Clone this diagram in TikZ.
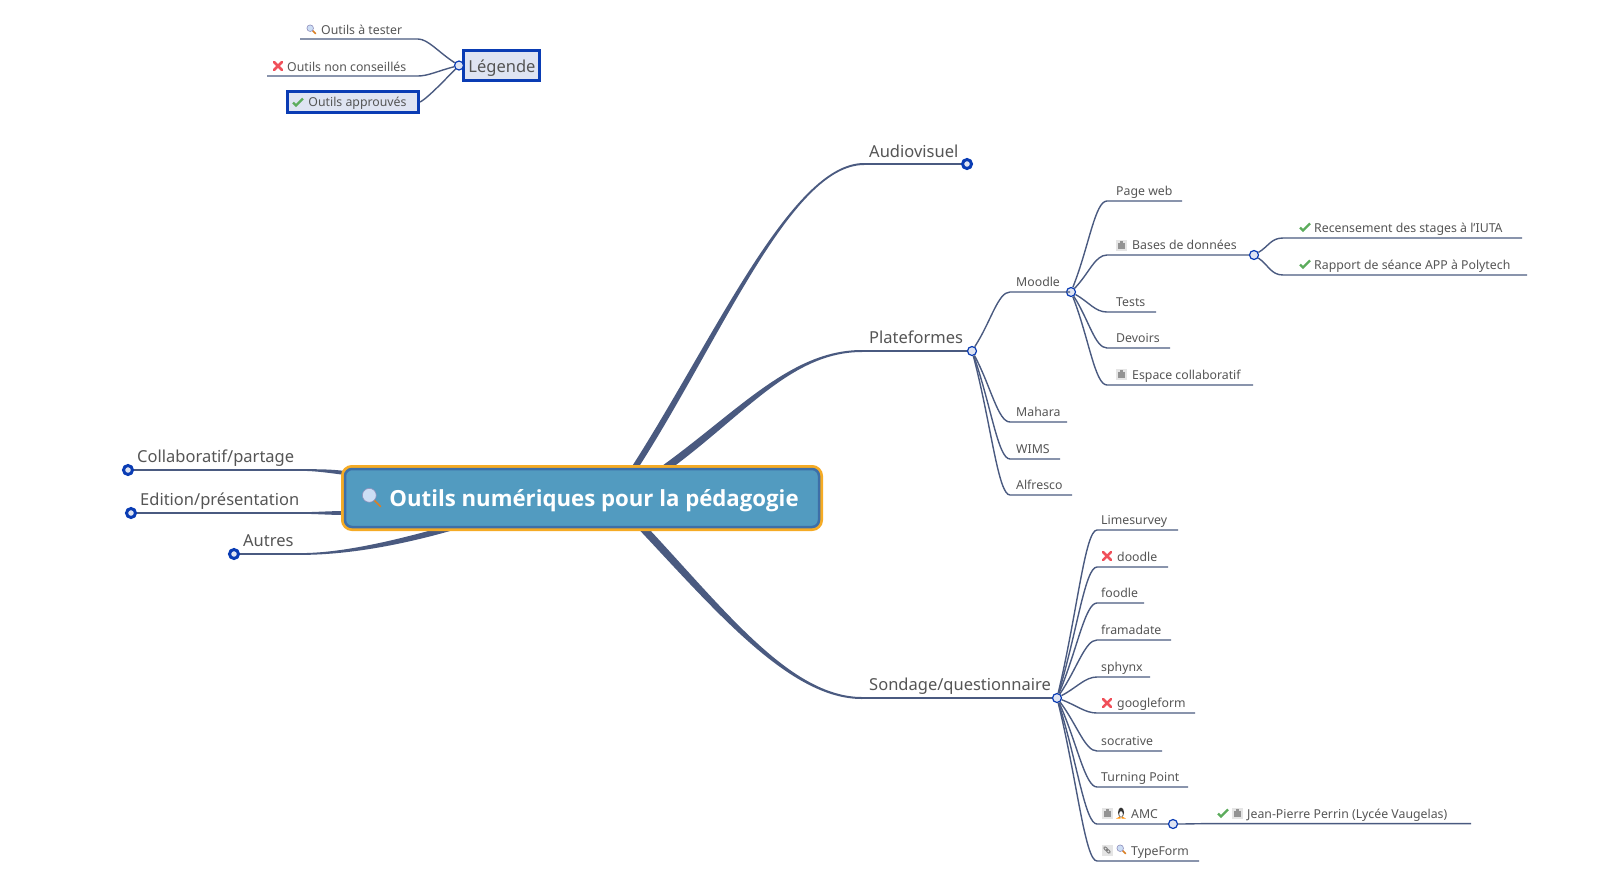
\documentclass[tikz,border=0pt]{standalone}
\usepackage{fontspec}
\setmainfont{Noto Sans}
\newfontfamily\titlefont{Open Sans}
\usetikzlibrary{calc,backgrounds}
\definecolor{lnkc}{RGB}{74,90,128}
\definecolor{ringc}{RGB}{10,60,180}
\definecolor{hubc}{RGB}{223,228,242}
\definecolor{txtc}{RGB}{85,85,85}
\definecolor{mainc}{RGB}{82,155,192}
\definecolor{mainb}{RGB}{61,111,168}
\definecolor{maino}{RGB}{245,171,37}
\definecolor{okc}{RGB}{92,172,92}
\definecolor{noc}{RGB}{240,80,90}
\definecolor{lensc}{RGB}{205,222,245}
\tikzset{
  lnk/.style={lnkc, line width=1.4pt},
  hub/.style={circle, draw=ringc, fill=hubc, line width=1.2pt, inner sep=0pt, minimum size=9pt},
  hubb/.style={circle, draw=ringc, fill=hubc, line width=3pt, inner sep=0pt, minimum size=9pt},
  leaf/.style={anchor=base west, text=txtc, font=\fontsize{12.3}{14}\selectfont, inner sep=0pt},
  brn/.style={anchor=base west, text=txtc, font=\fontsize{16.5}{20}\selectfont, inner sep=0pt},
  sel/.style={draw=ringc, fill=hubc, line width=2.6pt, inner sep=0pt, text=txtc},
  mainbox/.style={draw=mainb, fill=mainc, line width=2.5pt, rounded corners=7pt,
      preaction={draw=maino, line width=8pt},
      minimum width=474pt, minimum height=58pt, inner sep=0pt, text=white,
      font=\titlefont\fontsize{22.2}{24}\selectfont\bfseries},
  loupe/.pic={
    \draw[line width=1.7pt, line cap=round, brown!60!orange] (1.5,1.5) -- (4.5,4.5);
    \draw[fill=lensc, draw=blue!25!gray!70, line width=.6pt] (-.8,-.8) circle (3.3);
  },
  croix/.pic={
    \draw[line width=2.5pt, line cap=round, noc] (-4,-4) -- (4,4) (-4,4) -- (4,-4);
  },
  coche/.pic={
    \draw[line width=2.2pt, okc] (-5,.5) -- (-2,3.5) -- (5,-3.5);
  },
  bloc/.pic={
    \fill[gray!20] (-5.5,-5.5) rectangle (5.5,5.5);
    \fill[gray!85] (-3.5,-2.5) rectangle (3.5,3.5);
    \fill[gray!85] (-1.5,-4) rectangle (1.5,-2);
  },
  lien/.pic={
    \fill[gray!20] (-5.5,-5.5) rectangle (5.5,5.5);
    \draw[gray, line width=1pt, rotate=-45] (-1.7,0) ellipse (2.3 and 1.3) (1.7,0) ellipse (2.3 and 1.3);
  },
  manchot/.pic={
    \fill[black!80] (0,-.5) ellipse (3 and 5);
    \fill[white] (0,1) ellipse (1.8 and 2.8);
    \fill[orange!90!yellow] (-5,5.5) -- (-1,3.5) -- (-.5,5.5) -- cycle (5,5.5) -- (1,3.5) -- (.5,5.5) -- cycle;
  },
}
% thick branch, thin at its far end
\newcommand{\taperlink}[6]{
  \fill[lnkc] ($(#1)-(#5)$) .. controls ($(#2)-(#5)$) and ($(#3)-(#6)$) .. ($(#4)-(#6)$)
    -- ($(#4)+(#6)$) .. controls ($(#3)+(#6)$) and ($(#2)+(#5)$) .. ($(#1)+(#5)$) -- cycle;
}
\begin{document}
\begin{tikzpicture}[x=1pt, y=-1pt]
  \useasboundingbox (0,0) rectangle (1609,887);

  % centre
  \node[mainbox] (main) at (582,498) {\raisebox{-8pt}[0pt][0pt]{\hspace{24pt}Outils numériques pour la pédagogie}};
  \pic[scale=2.1] at (371,497) {loupe};

  % hubs
  \node[hubb] (audio) at (967,164) {};
  \node[hub] (plat) at (972,351) {};
  \node[hub] (mood) at (1071,292) {};
  \node[hub] (base) at (1254,255) {};
  \node[hub] (sond) at (1057,698) {};
  \node[hub] (amc) at (1173,824) {};
  \node[hubb] (collab) at (128,470) {};
  \node[hubb] (edit) at (131,513) {};
  \node[hubb] (autres) at (234,554) {};

  % main branches
  \node[brn] (audiot) at (869,157) {Audiovisuel};
  \node[brn] (platt) at (869,343) {Plateformes};
  \node[brn] (sondt) at (869,690) {Sondage/questionnaire};
  \node[brn] (collabt) at (137,462) {Collaboratif/partage};
  \node[brn] (editt) at (140,505) {Edition/présentation};
  \node[brn] (autrest) at (243,546) {Autres};
  \begin{scope}[on background layer]
    \coordinate (a0) at (630,475);
    \coordinate (a1) at (864,164);
    \taperlink{a0}{715,345}{790,164}{a1}{3.6,0}{0,1}
    \draw[lnk] (a1) -- (audio);
    \coordinate (p0) at (660,472);
    \coordinate (p1) at (862,351);
    \taperlink{p0}{740,415}{790,351}{p1}{2.8,2.6}{0,1}
    \draw[lnk] (p1) -- (plat);
    \coordinate (s0) at (640,525);
    \coordinate (s1) at (862,698);
    \taperlink{s0}{720,610}{790,698}{s1}{-2.8,2.6}{0,1}
    \draw[lnk] (s1) -- (sond);
    \coordinate (c0) at (345,473);
    \coordinate (c1) at (300,470);
    \taperlink{c0}{330,471}{315,470}{c1}{0,2}{0,.8}
    \draw[lnk] (c1) -- (collab);
    \coordinate (e0) at (345,513);
    \coordinate (e1) at (300,513);
    \taperlink{e0}{330,513}{315,513}{e1}{0,2}{0,.8}
    \draw[lnk] (e1) -- (edit);
    \coordinate (u0) at (450,528);
    \coordinate (u1) at (300,554);
    \taperlink{u0}{390,545}{340,554}{u1}{0,3}{0,.9}
    \draw[lnk] (u1) -- (autres);
  \end{scope}

  % leaves
  \foreach \nm/\hb/\yy/\xs/\xe/\tx/\txt in {
      moodle/plat/292/1010/1070/1016/Moodle,
      mahara/plat/422/1010/1067/1016/Mahara,
      wims/plat/459/1010/1060/1016/WIMS,
      alfresco/plat/495/1010/1072/1016/Alfresco,
      pageweb/mood/201/1107/1182/1116/Page web,
      tests/mood/312/1107/1156/1116/Tests,
      devoirs/mood/348/1107/1170/1116/Devoirs,
      espace/mood/385/1107/1253/1132/Espace collaboratif,
      recens/base/238/1283/1522/1314/Recensement des stages à l'IUTA,
      rapport/base/275/1283/1527/1314/Rapport de séance APP à Polytech,
      limes/sond/530/1097/1178/1101/Limesurvey,
      doodle/sond/567/1097/1168/1117/doodle,
      foodle/sond/603/1097/1144/1101/foodle,
      frama/sond/640/1097/1171/1101/framadate,
      sphynx/sond/677/1097/1150/1101/sphynx,
      google/sond/713/1097/1195/1117/googleform,
      socra/sond/751/1097/1162/1101/socrative,
      turning/sond/787/1097/1188/1101/Turning Point,
      typef/sond/861/1097/1199/1131/TypeForm}{
    \coordinate (\nm s) at (\xs,\yy);
    \coordinate (\nm e) at (\xe,\yy);
    \node[leaf] (\nm) at (\tx,\yy-5.2) {\txt};
    \draw[lnk] (\hb) .. controls ($(\hb)!.5!(\nm s)$) and ($(\nm s)+(-12,0)$) .. (\nm s) -- (\nm e);
  }
  % branch with a hub of its own
  \coordinate (bases) at (1107,255);
  \node[leaf] (basest) at (1132,249.8) {Bases de données};
  \draw[lnk] (mood) .. controls ($(mood)!.5!(bases)$) and ($(bases)+(-12,0)$) .. (bases) -- (base);
  \coordinate (amcs) at (1097,824);
  \node[leaf] (amct) at (1131,818.8) {AMC};
  \draw[lnk] (sond) .. controls ($(sond)!.5!(amcs)$) and ($(amcs)+(-12,0)$) .. (amcs) -- (amc);
  \coordinate (jps) at (1213,823.6);
  \coordinate (jpe) at (1471,823.6);
  \node[leaf] (jpt) at (1247,818.4) {Jean-Pierre Perrin (Lycée Vaugelas)};
  \draw[lnk] (amc) .. controls +(15,0) and ($(jps)+(-15,0)$) .. (jps) -- (jpe);

  % legend
  \node[sel, minimum width=76pt, minimum height=30pt, font=\fontsize{16.5}{20}\selectfont] (leg) at (501.5,65.5) {\raisebox{-7pt}[0pt][0pt]{\hspace{1pt}Légende}};
  \node[hub] (leghub) at (459,65.5) {};
  \node[sel, minimum width=131.5pt, minimum height=21.5pt, font=\fontsize{12.3}{14}\selectfont] (ok) at (353,102) {\raisebox{-4.6pt}[0pt][0pt]{\hspace{9pt}Outils approuvés}};
  \coordinate (tests) at (418,39);
  \coordinate (teste) at (300,39);
  \node[leaf] (testt) at (321,34) {Outils à tester};
  \coordinate (nons) at (418,76);
  \coordinate (none) at (267,76);
  \node[leaf] (nont) at (287,71) {Outils non conseillés};
  \draw[lnk] (leghub) .. controls ($(leghub)!.5!(tests)$) and ($(tests)+(10,0)$) .. (tests) -- (teste);
  \draw[lnk] (leghub) .. controls ($(leghub)!.5!(nons)$) and ($(nons)+(10,0)$) .. (nons) -- (none);
  \draw[lnk] (leghub) .. controls +(-10,10) and ($(ok.east)+(8,-4)$) .. (ok.east);

  % icons
  \foreach \ic/\px/\py in {
      loupe/311/29, croix/278/66, coche/298/102,
      bloc/1121/245, bloc/1121/374, coche/1305/227, coche/1305/264,
      croix/1107/556, croix/1107/703,
      bloc/1107/813, manchot/1121/813, coche/1223/813, bloc/1237/813,
      lien/1107/850, loupe/1121/849}{
    \pic at (\px,\py) {\ic};
  }
\end{tikzpicture}
\end{document}
